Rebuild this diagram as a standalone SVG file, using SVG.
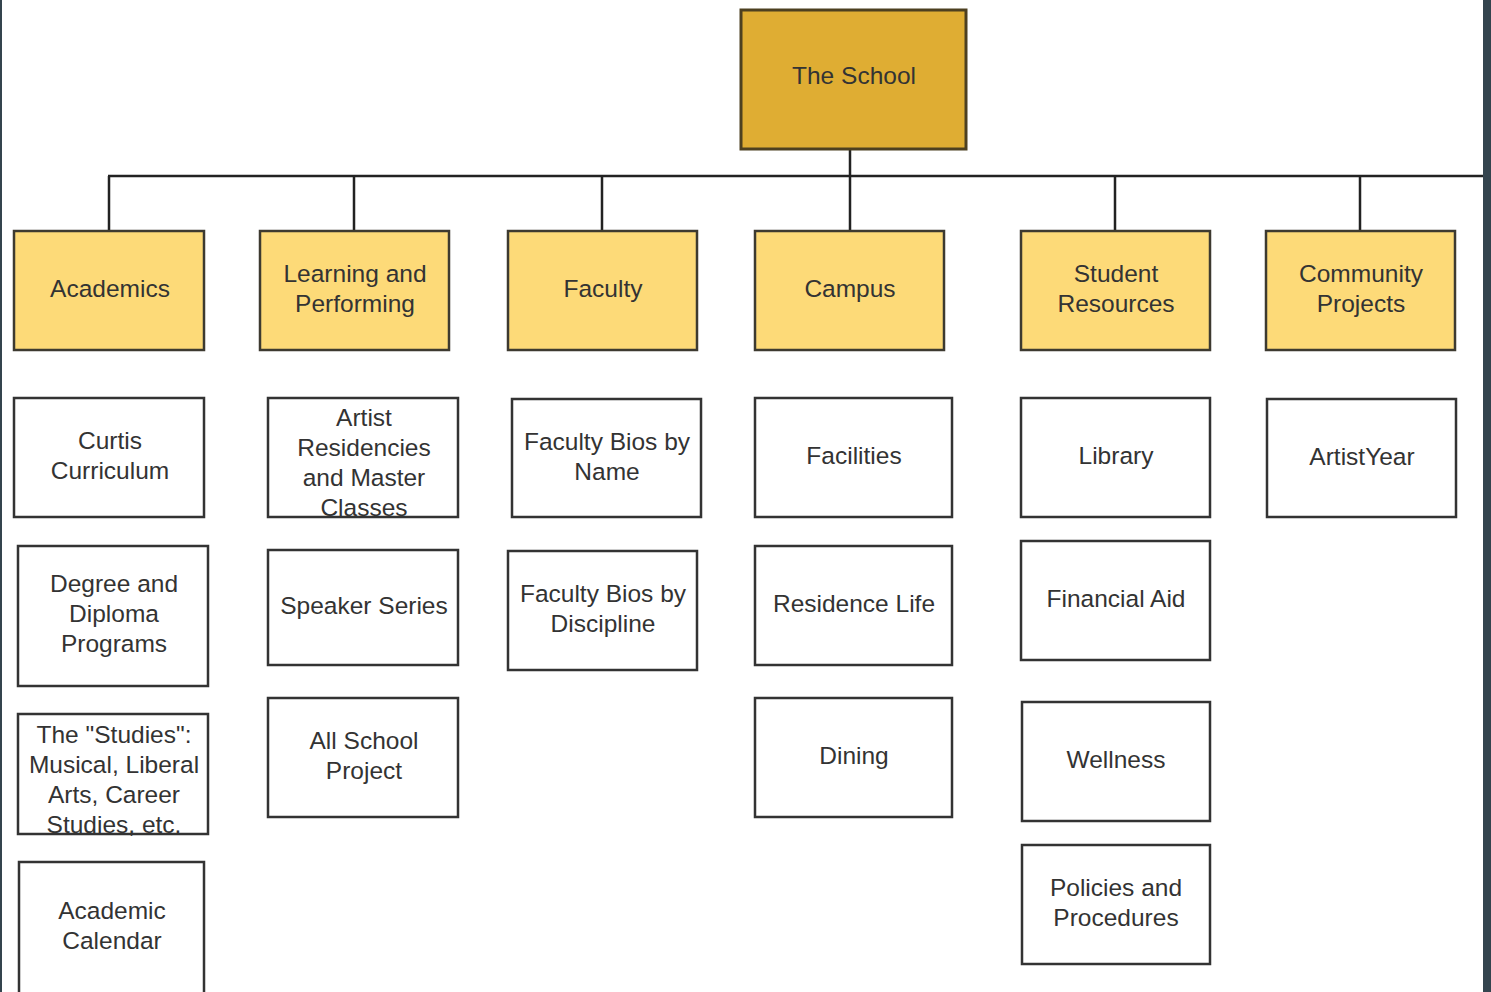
<svg xmlns="http://www.w3.org/2000/svg" width="1491" height="992" viewBox="0 0 1491 992">
<style>
text{font-family:"Liberation Sans",Arial,sans-serif;font-size:24.5px;fill:#333;text-anchor:middle}
.root rect{fill:#dfad33;stroke:#4d4020;stroke-width:3}
.l1 rect{fill:#fdda78;stroke:#3d3a30;stroke-width:2.5}
.l2 rect{fill:#fff;stroke:#333;stroke-width:2.5}
#connectors path{stroke:#222;stroke-width:2.5;fill:none}
</style>
<rect width="1491" height="992" fill="#fff"/>
<rect x="0" y="0" width="2" height="992" fill="#34444e"/>
<rect x="1483" y="0" width="8" height="992" fill="#34444e"/>
<g id="connectors">
<path d="M850 149V231M108 176H1483M109 176V231M354 176V231M602 176V231M1115 176V231M1360 176V231"/>
</g>
<g id="n-school" class="root"><rect x="741" y="10" width="225" height="139"/><text x="854" y="84">The School</text></g>
<g id="n-academics" class="l1"><rect x="14" y="231" width="190" height="119"/><text x="110" y="297">Academics</text></g>
<g id="n-learning" class="l1"><rect x="260" y="231" width="189" height="119"/><text x="355" y="282">Learning and</text><text x="355" y="312">Performing</text></g>
<g id="n-faculty" class="l1"><rect x="508" y="231" width="189" height="119"/><text x="603" y="297">Faculty</text></g>
<g id="n-campus" class="l1"><rect x="755" y="231" width="189" height="119"/><text x="850" y="297">Campus</text></g>
<g id="n-student" class="l1"><rect x="1021" y="231" width="189" height="119"/><text x="1116" y="282">Student</text><text x="1116" y="312">Resources</text></g>
<g id="n-community" class="l1"><rect x="1266" y="231" width="189" height="119"/><text x="1361" y="282">Community</text><text x="1361" y="312">Projects</text></g>
<g id="n-curtis" class="l2"><rect x="14" y="398" width="190" height="119"/><text x="110" y="449">Curtis</text><text x="110" y="479">Curriculum</text></g>
<g id="n-degree" class="l2"><rect x="18" y="546" width="190" height="140"/><text x="114" y="592">Degree and</text><text x="114" y="622">Diploma</text><text x="114" y="652">Programs</text></g>
<g id="n-studies" class="l2"><rect x="18" y="714" width="190" height="120"/><text x="114" y="743">The "Studies":</text><text x="114" y="773">Musical, Liberal</text><text x="114" y="803">Arts, Career</text><text x="114" y="833">Studies, etc.</text></g>
<g id="n-calendar" class="l2"><rect x="19" y="862" width="185" height="132"/><text x="112" y="919">Academic</text><text x="112" y="949">Calendar</text></g>
<g id="n-artist" class="l2"><rect x="268" y="398" width="190" height="119"/><text x="364" y="426">Artist</text><text x="364" y="456">Residencies</text><text x="364" y="486">and Master</text><text x="364" y="516">Classes</text></g>
<g id="n-speaker" class="l2"><rect x="268" y="550" width="190" height="115"/><text x="364" y="614">Speaker Series</text></g>
<g id="n-allschool" class="l2"><rect x="268" y="698" width="190" height="119"/><text x="364" y="749">All School</text><text x="364" y="779">Project</text></g>
<g id="n-biosname" class="l2"><rect x="512" y="399" width="189" height="118"/><text x="607" y="450">Faculty Bios by</text><text x="607" y="480">Name</text></g>
<g id="n-biosdisc" class="l2"><rect x="508" y="551" width="189" height="119"/><text x="603" y="602">Faculty Bios by</text><text x="603" y="632">Discipline</text></g>
<g id="n-facilities" class="l2"><rect x="755" y="398" width="197" height="119"/><text x="854" y="464">Facilities</text></g>
<g id="n-residence" class="l2"><rect x="755" y="546" width="197" height="119"/><text x="854" y="612">Residence Life</text></g>
<g id="n-dining" class="l2"><rect x="755" y="698" width="197" height="119"/><text x="854" y="764">Dining</text></g>
<g id="n-library" class="l2"><rect x="1021" y="398" width="189" height="119"/><text x="1116" y="464">Library</text></g>
<g id="n-finaid" class="l2"><rect x="1021" y="541" width="189" height="119"/><text x="1116" y="607">Financial Aid</text></g>
<g id="n-wellness" class="l2"><rect x="1022" y="702" width="188" height="119"/><text x="1116" y="768">Wellness</text></g>
<g id="n-policies" class="l2"><rect x="1022" y="845" width="188" height="119"/><text x="1116" y="896">Policies and</text><text x="1116" y="926">Procedures</text></g>
<g id="n-artistyear" class="l2"><rect x="1267" y="399" width="189" height="118"/><text x="1362" y="465">ArtistYear</text></g>
</svg>
